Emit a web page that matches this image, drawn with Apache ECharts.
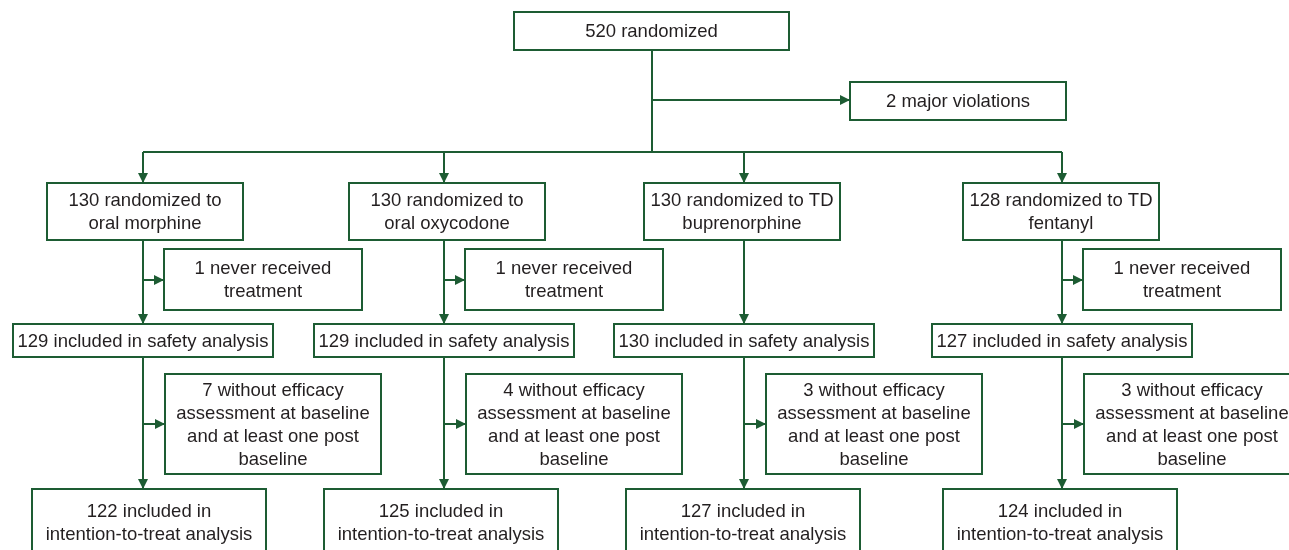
<!DOCTYPE html>
<html>
<head>
<meta charset="utf-8">
<title>Patient flow</title>
<script src="https://cdn.jsdelivr.net/npm/echarts@6/dist/echarts.min.js"></script>
<style>
  html, body { margin: 0; padding: 0; background: #fff; }
  #chart { width: 1289px; height: 550px; }
</style>
</head>
<body>
<div id="chart"></div>
<script>
// counts
var totalRandomized = 520;
var majorViolations = 2;
var armRoute = ['oral', 'oral', 'TD', 'TD'];
var armDrug = ['morphine', 'oxycodone', 'buprenorphine', 'fentanyl'];
var randomizedN = [130, 130, 130, 128];
var neverTreatedN = [1, 1, 0, 1];
var safetyN = [129, 129, 130, 127];
var noEfficacyN = [7, 4, 3, 3];
var ittN = [122, 125, 127, 124];

// layout, in px of the 1289x550 canvas (the hidden axes map 1:1)
var green = '#1d5c33';
var textColor = '#231f20';
var colX = [143, 444, 744, 1062];
var topBox = { l: 514, r: 789, t: 12, b: 50 };
var violBox = { l: 850, r: 1066, t: 82, b: 120 };
var branchY = 100;
var barY = 152;
var rowRand = { t: 183, b: 240, w: 196, off: [2, 3, -2, -1] };
var rowSide = { t: 249, b: 310, w: 198, dx: 21 };
var rowSafety = { t: 324, b: 357, w: 260, off: [0, 0, 0, 0] };
var rowEff = { t: 374, b: 474, w: 216, dx: 22 };
var rowItt = { t: 489, b: 555, w: 234, off: [6, -3, -1, -2] };

// build boxes + texts
var boxes = [];
var boxTexts = [];
function addBox(l, t, r, b, txt) {
  boxes.push([l, t, r, b]);
  boxTexts.push(txt);
}
function centred(row, i) {
  var c = colX[i] + row.off[i];
  return [c - row.w / 2, row.t, c + row.w / 2, row.b];
}
function sideOf(row, i) {
  return [colX[i] + row.dx, row.t, colX[i] + row.dx + row.w, row.b];
}

addBox(topBox.l, topBox.t, topBox.r, topBox.b, totalRandomized + ' randomized');
addBox(violBox.l, violBox.t, violBox.r, violBox.b, majorViolations + ' major violations');

// connectors: [x1, y1, x2, y2, arrow]
var links = [];
var mid = Math.round((topBox.l + topBox.r) / 2);
links.push([mid, topBox.b, mid, barY, 0]);
links.push([mid, branchY, violBox.l, branchY, 1]);
links.push([colX[0], barY, colX[colX.length - 1], barY, 0]);

for (var i = 0; i < colX.length; i++) {
  var r = centred(rowRand, i);
  addBox(r[0], r[1], r[2], r[3],
    randomizedN[i] + ' randomized to' + (armRoute[i] === 'TD' ? ' TD' : '') + '\n' +
    (armRoute[i] === 'oral' ? 'oral ' : '') + armDrug[i]);
  if (neverTreatedN[i] > 0) {
    var s = sideOf(rowSide, i);
    addBox(s[0], s[1], s[2], s[3], neverTreatedN[i] + ' never received\ntreatment');
    var sy = Math.round((rowSide.t + rowSide.b) / 2);
    links.push([colX[i], sy, s[0], sy, 1]);
  }
  var sa = centred(rowSafety, i);
  addBox(sa[0], sa[1], sa[2], sa[3], safetyN[i] + ' included in safety analysis');
  var e = sideOf(rowEff, i);
  addBox(e[0], e[1], e[2], e[3],
    noEfficacyN[i] + ' without efficacy\nassessment at baseline\nand at least one post\nbaseline');
  var ey = Math.round((rowEff.t + rowEff.b) / 2);
  links.push([colX[i], ey, e[0], ey, 1]);
  var it = centred(rowItt, i);
  addBox(it[0], it[1], it[2], it[3], ittN[i] + ' included in\nintention-to-treat analysis');

  links.push([colX[i], barY, colX[i], rowRand.t, 1]);
  links.push([colX[i], rowRand.b, colX[i], rowSafety.t, 1]);
  links.push([colX[i], rowSafety.b, colX[i], rowItt.t, 1]);
}

var chart = echarts.init(document.getElementById('chart'));

var option = {
  animation: false,
  backgroundColor: '#fff',
  grid: { left: 0, right: 0, top: 0, bottom: 0 },
  xAxis: { type: 'value', min: 0, max: 1289, show: false },
  yAxis: { type: 'value', min: 0, max: 550, inverse: true, show: false },
  series: [
    {
      name: 'boxes',
      type: 'custom',
      clip: false,
      z: 1,
      data: boxes,
      renderItem: function (params, api) {
        var p1 = api.coord([api.value(0), api.value(1)]);
        var p2 = api.coord([api.value(2), api.value(3)]);
        return {
          type: 'group',
          children: [
            {
              type: 'rect',
              shape: { x: p1[0], y: p1[1], width: p2[0] - p1[0], height: p2[1] - p1[1] },
              style: { fill: '#fff', stroke: green, lineWidth: 2 }
            },
            {
              type: 'text',
              style: {
                x: (p1[0] + p2[0]) / 2,
                y: (p1[1] + p2[1]) / 2 + 1,
                text: boxTexts[params.dataIndex],
                align: 'center',
                verticalAlign: 'middle',
                fontFamily: '"Liberation Sans", Arial, sans-serif',
                fontSize: 18.5,
                lineHeight: 23,
                fill: textColor
              }
            }
          ]
        };
      }
    },
    {
      name: 'links',
      type: 'custom',
      clip: false,
      z: 2,
      data: links,
      renderItem: function (params, api) {
        var a = api.coord([api.value(0), api.value(1)]);
        var b = api.coord([api.value(2), api.value(3)]);
        var kids = [{
          type: 'line',
          shape: { x1: a[0], y1: a[1], x2: b[0], y2: b[1] },
          style: { stroke: green, lineWidth: 2 }
        }];
        if (api.value(4) === 1) {
          var dx = b[0] - a[0], dy = b[1] - a[1];
          var len = Math.sqrt(dx * dx + dy * dy);
          var ux = dx / len, uy = dy / len;
          var L = 10, W = 5;
          var bx = b[0] - ux * L, by = b[1] - uy * L;
          kids.push({
            type: 'polygon',
            shape: { points: [[b[0], b[1]], [bx - uy * W, by + ux * W], [bx + uy * W, by - ux * W]] },
            style: { fill: green }
          });
        }
        return { type: 'group', children: kids };
      }
    }
  ]
};

chart.setOption(option);
</script>
</body>
</html>
